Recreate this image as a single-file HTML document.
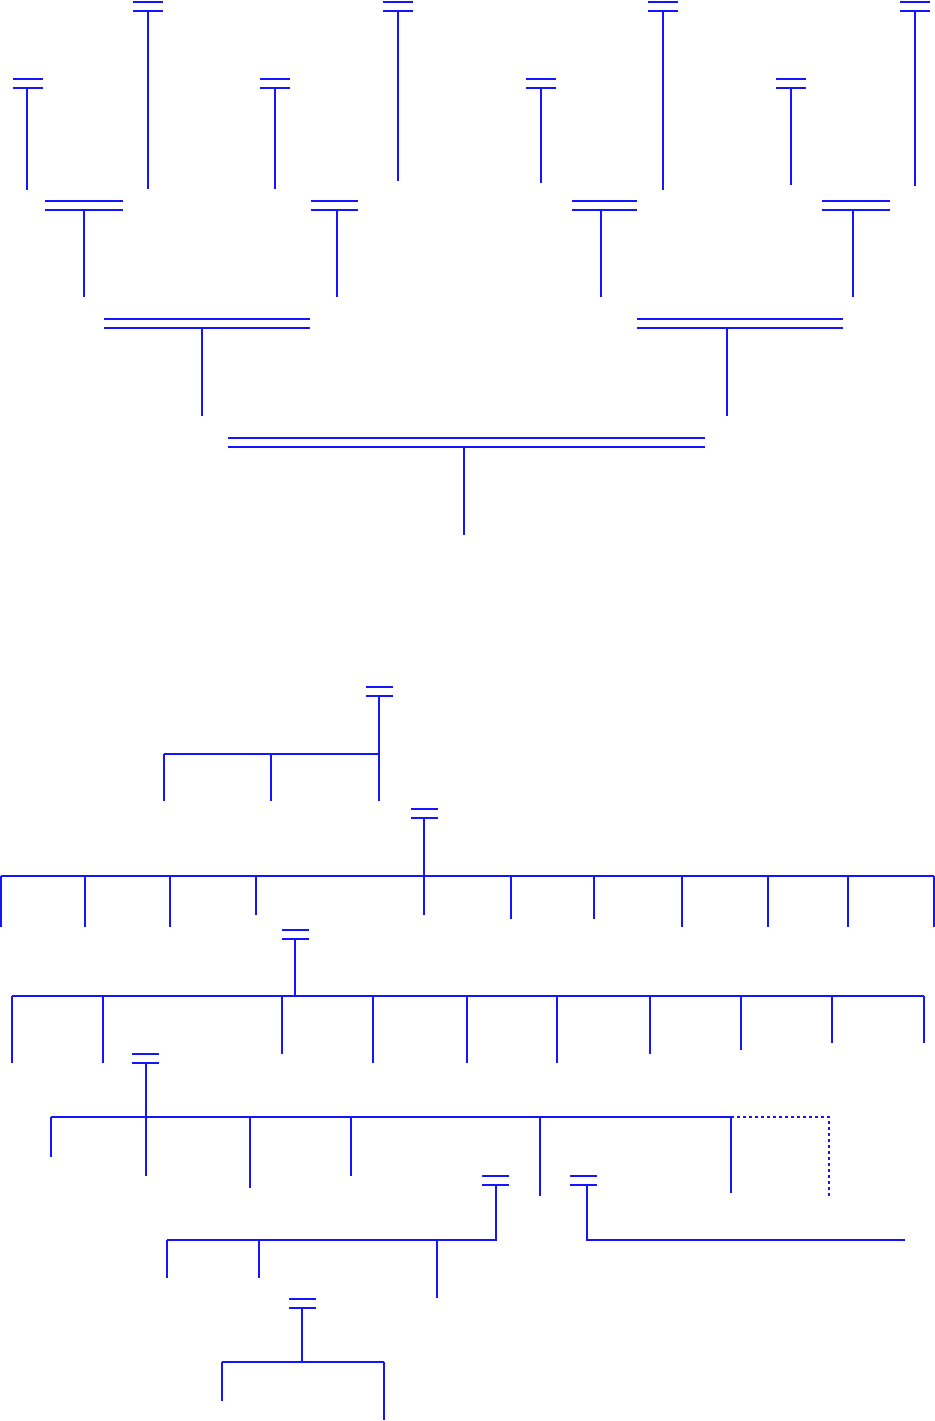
<!DOCTYPE html>
<html><head><meta charset="utf-8"><style>html,body{margin:0;padding:0;background:#fff}svg{display:block}</style></head>
<body>
<svg width="935" height="1421" viewBox="0 0 935 1421" xmlns="http://www.w3.org/2000/svg">
<g stroke="#1414ff" stroke-width="2" fill="none">
<path d="M133 2H163M133 11H163M148 11V189"/>
<path d="M383 2H413M383 11H413M398 11V181"/>
<path d="M648 2H678M648 11H678M663 11V190"/>
<path d="M900 2H930M900 11H930M915 11V186"/>
<path d="M13 79H43M13 88H43M27 88V190"/>
<path d="M260 79H290M260 88H290M275 88V189"/>
<path d="M526 79H556M526 88H556M541 88V183"/>
<path d="M776 79H806M776 88H806M791 88V185"/>
<path d="M45 201H123M45 210H123M84 210V297"/>
<path d="M311 201H358M311 210H358M337 210V297"/>
<path d="M572 201H637M572 210H637M601 210V297"/>
<path d="M822 201H890M822 210H890M853 210V297"/>
<path d="M104 319H310M104 328H310M202 328V416"/>
<path d="M637 319H843M637 328H843M727 328V416"/>
<path d="M228 438H705M228 447H705M464 447V535"/>
<path d="M366 687H393M366 696H393M379 696V801M164 754H379M164 754V801M271 754V801"/>
<path d="M411 809H438M411 818H438M424 818V915M1 876H934"/>
<path d="M1 876V927M85 876V927M170 876V927M256 876V915M511 876V919M594 876V919M682 876V927M768 876V927M848 876V927M934 876V927"/>
<path d="M282 930H309M282 939H309M295 939V996M12 996H924"/>
<path d="M12 996V1063M103 996V1063M282 996V1054M373 996V1063M467 996V1063M557 996V1063M650 996V1054M741 996V1050M832 996V1043M924 996V1043"/>
<path d="M132 1054H159M132 1063H159M146 1063V1176M51 1117H731"/>
<path d="M51 1117V1157M250 1117V1188M351 1117V1176M540 1117V1196M731 1117V1193"/>
<path d="M731 1117H829V1197" stroke-dasharray="3,3"/>
<path d="M482 1176H509M482 1185H509M496 1185V1240H167M167 1240V1278M259 1240V1278M437 1240V1298"/>
<path d="M570 1176H597M570 1185H597M587 1185V1240H905"/>
<path d="M289 1299H316M289 1308H316M302 1308V1362M222 1362H384M222 1362V1401M384 1362V1420"/>
</g>
</svg>
</body></html>
